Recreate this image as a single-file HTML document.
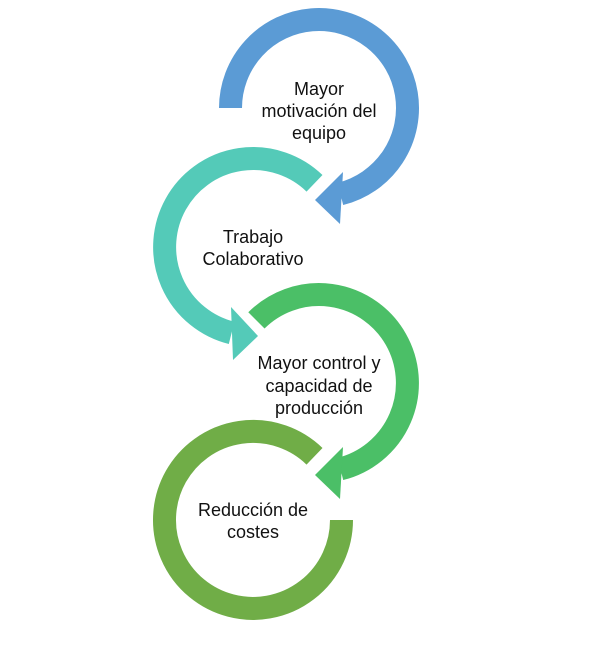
<!DOCTYPE html>
<html><head><meta charset="utf-8"><style>
html,body{margin:0;padding:0;background:#fff;}
svg{display:block;}
text{font-family:"Liberation Sans",sans-serif;font-size:18px;fill:#111;text-anchor:middle;dominant-baseline:central;}
</style></head><body>
<svg width="615" height="651" viewBox="0 0 615 651">
<g fill="none" stroke-width="23" stroke-linecap="butt">
<path d="M230.5 108 A88.5 88.5 0 1 1 340.4 193.9" stroke="#5B9BD5"/>
<path d="M314.5 183.3 A88.5 88.5 0 1 0 231.6 332.9" stroke="#54CAB8"/>
<path d="M256.4 320.4 A88.5 88.5 0 1 1 340.4 468.9" stroke="#4BBF67"/>
<path d="M314.5 456.3 A88.5 88.5 0 1 0 341.5 520" stroke="#70AD47"/>
</g>
<polygon points="343,172 315,200 340,224" fill="#5B9BD5"/>
<polygon points="231,307 258,336 233,360" fill="#54CAB8"/>
<polygon points="343,447 315,475 340,499" fill="#4BBF67"/>
<text x="319" y="89">Mayor</text>
<text x="319" y="111">motivación del</text>
<text x="319" y="133">equipo</text>
<text x="253" y="237">Trabajo</text>
<text x="253" y="259">Colaborativo</text>
<text x="319" y="363">Mayor control y</text>
<text x="319" y="386">capacidad de</text>
<text x="319" y="408">producción</text>
<text x="253" y="510">Reducción de</text>
<text x="253" y="532">costes</text>
</svg>
</body></html>
